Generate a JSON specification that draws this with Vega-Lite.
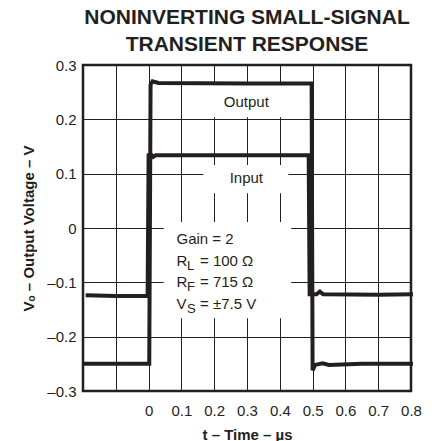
{
  "$schema": "https://vega.github.io/schema/vega-lite/v6.json",
  "width": 328,
  "height": 326,
  "autosize": {"type": "none"},
  "padding": {"left": 83, "top": 65, "right": 24, "bottom": 50},
  "title": {
    "text": ["NONINVERTING SMALL-SIGNAL", "TRANSIENT RESPONSE"],
    "font": "Liberation Sans",
    "fontSize": 21,
    "fontWeight": "bold",
    "color": "#231f20",
    "lineHeight": 27,
    "offset": 3,
    "anchor": "middle"
  },
  "config": {
    "view": {"stroke": "#231f20", "strokeWidth": 2.5},
    "axis": {
      "domain": false,
      "ticks": false,
      "grid": true,
      "gridColor": "#231f20",
      "gridWidth": 1,
      "gridOpacity": 1,
      "labelFont": "Liberation Sans",
      "labelFontSize": 15,
      "labelColor": "#231f20",
      "labelFlush": false,
      "labelOverlap": false,
      "titleFont": "Liberation Sans",
      "titleFontSize": 15,
      "titleFontWeight": "bold",
      "titleColor": "#231f20"
    }
  },
  "datasets": {
    "signals": [
      {"series": "Input", "t": -0.192, "v": -0.124},
      {"series": "Input", "t": -0.1, "v": -0.125},
      {"series": "Input", "t": -0.003, "v": -0.125},
      {"series": "Input", "t": 0.0, "v": 0.134},
      {"series": "Input", "t": 0.008, "v": 0.135},
      {"series": "Input", "t": 0.014, "v": 0.131},
      {"series": "Input", "t": 0.022, "v": 0.134},
      {"series": "Input", "t": 0.3, "v": 0.134},
      {"series": "Input", "t": 0.488, "v": 0.134},
      {"series": "Input", "t": 0.491, "v": -0.122},
      {"series": "Input", "t": 0.512, "v": -0.122},
      {"series": "Input", "t": 0.522, "v": -0.117},
      {"series": "Input", "t": 0.532, "v": -0.122},
      {"series": "Input", "t": 0.7, "v": -0.123},
      {"series": "Input", "t": 0.806, "v": -0.122},
      {"series": "Output", "t": -0.2, "v": -0.25},
      {"series": "Output", "t": -0.1, "v": -0.25},
      {"series": "Output", "t": 0.002, "v": -0.25},
      {"series": "Output", "t": 0.006, "v": 0.264},
      {"series": "Output", "t": 0.012, "v": 0.27},
      {"series": "Output", "t": 0.03, "v": 0.267},
      {"series": "Output", "t": 0.3, "v": 0.266},
      {"series": "Output", "t": 0.497, "v": 0.266},
      {"series": "Output", "t": 0.5, "v": -0.262},
      {"series": "Output", "t": 0.508, "v": -0.252},
      {"series": "Output", "t": 0.53, "v": -0.249},
      {"series": "Output", "t": 0.55, "v": -0.252},
      {"series": "Output", "t": 0.65, "v": -0.25},
      {"series": "Output", "t": 0.806, "v": -0.25}
    ],
    "boxes": [
      {"name": "Output", "t": 0.173, "t2": 0.426, "v": 0.263, "v2": 0.204},
      {"name": "Input", "t": 0.167, "t2": 0.426, "v": 0.116, "v2": 0.064},
      {"name": "Conditions", "t": 0.046, "t2": 0.435, "v": 0.011, "v2": -0.166}
    ],
    "labels": [
      {"label": "Output", "t": 0.298, "v": 0.232},
      {"label": "Input", "t": 0.298, "v": 0.092}
    ],
    "conditions": [
      {"base": "Gain = 2", "sub": "", "rest": "", "t": 0.085, "v": -0.021},
      {"base": "R", "sub": "L", "rest": "= 100 Ω", "t": 0.085, "v": -0.06},
      {"base": "R", "sub": "F", "rest": "= 715 Ω", "t": 0.085, "v": -0.099},
      {"base": "V", "sub": "S", "rest": "= ±7.5 V", "t": 0.085, "v": -0.139}
    ]
  },
  "encoding": {
    "x": {
      "field": "t",
      "type": "quantitative",
      "scale": {"domain": [-0.2, 0.8], "nice": false, "zero": false},
      "axis": {
        "title": "t – Time – µs",
        "values": [-0.1, 0, 0.1, 0.2, 0.3, 0.4, 0.5, 0.6, 0.7, 0.8],
        "labelExpr": "datum.value < 0 ? '' : format(datum.value, '.1~f')",
        "labelPadding": 12,
        "titlePadding": 9
      }
    },
    "y": {
      "field": "v",
      "type": "quantitative",
      "scale": {"domain": [-0.3, 0.3], "nice": false, "zero": false},
      "axis": {
        "title": "Vₒ – Output Voltage – V",
        "values": [-0.3, -0.2, -0.1, 0, 0.1, 0.2, 0.3],
        "labelExpr": "datum.value == 0 ? '0' : (datum.value < 0 ? '–' : '') + format(abs(datum.value), '.1f')",
        "labelPadding": 7,
        "titlePadding": 10
      }
    }
  },
  "layer": [
    {
      "data": {"name": "boxes"},
      "mark": {"type": "rect", "fill": "white", "stroke": null},
      "encoding": {"x2": {"field": "t2"}, "y2": {"field": "v2"}}
    },
    {
      "data": {"name": "signals"},
      "mark": {"type": "line", "color": "#231f20", "strokeWidth": 4, "strokeJoin": "miter", "strokeCap": "butt"},
      "encoding": {"detail": {"field": "series"}}
    },
    {
      "data": {"name": "labels"},
      "mark": {"type": "text", "font": "Liberation Sans", "fontSize": 15, "color": "#231f20", "align": "center", "baseline": "middle"},
      "encoding": {"text": {"field": "label"}}
    },
    {
      "data": {"name": "conditions"},
      "mark": {"type": "text", "font": "Liberation Sans", "fontSize": 15, "color": "#231f20", "align": "left", "baseline": "middle"},
      "encoding": {"text": {"field": "base"}}
    },
    {
      "data": {"name": "conditions"},
      "mark": {"type": "text", "font": "Liberation Sans", "fontSize": 13, "color": "#231f20", "align": "left", "baseline": "middle", "dx": 10.5, "dy": 5},
      "encoding": {"text": {"field": "sub"}}
    },
    {
      "data": {"name": "conditions"},
      "mark": {"type": "text", "font": "Liberation Sans", "fontSize": 15, "color": "#231f20", "align": "left", "baseline": "middle", "dx": 23.5},
      "encoding": {"text": {"field": "rest"}}
    }
  ]
}
